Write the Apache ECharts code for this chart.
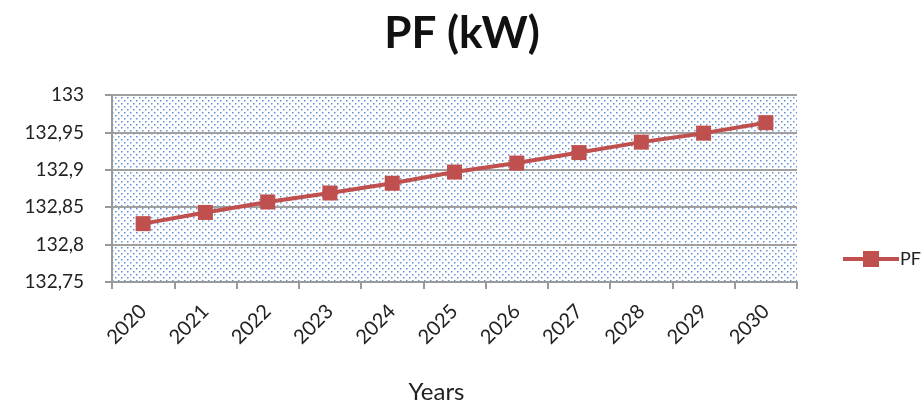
<!DOCTYPE html>
<html>
<head>
<meta charset="utf-8">
<script src="https://cdn.jsdelivr.net/npm/echarts@6/dist/echarts.min.js"></script>
<style>
  html, body { margin: 0; padding: 0; background: #fff; }
  #chart { width: 924px; height: 405px; }
</style>
</head>
<body>
<div id="chart"></div>
<script>
// Yearly PF values (kW)
const years = ['2020', '2021', '2022', '2023', '2024', '2025', '2026', '2027', '2028', '2029', '2030'];
const pfValues = [132.828, 132.843, 132.857, 132.869, 132.882, 132.897, 132.909, 132.923, 132.937, 132.949, 132.963];
const yTicks = [132.75, 132.8, 132.85, 132.9, 132.95, 133];

// Dotted fill for the plot area
function dotTile() {
  const c = document.createElement('canvas');
  c.width = 6; c.height = 6;
  const g = c.getContext('2d');
  g.fillStyle = '#fff';
  g.fillRect(0, 0, 6, 6);
  g.fillStyle = 'rgba(70,125,205,0.85)';
  g.fillRect(1, 1, 1.5, 1.5);
  g.fillRect(4, 4, 1.5, 1.5);
  return c;
}

const font = 'Lato, "Open Sans", sans-serif';
const chart = echarts.init(document.getElementById('chart'), null, { renderer: 'canvas' });
chart.setOption({
  animation: false,
  title: {
    text: 'PF (kW)',
    left: 'center',
    top: 7,
    textStyle: { fontFamily: font, fontSize: 44, fontWeight: 'bold', color: '#111' }
  },
  legend: {
    left: 836,
    top: 245,
    itemWidth: 56,
    itemHeight: 20,
    itemGap: 4,
    lineStyle: { width: 4 },
    textStyle: { fontFamily: font, fontSize: 18, color: '#222', padding: [0, 0, 0, -4] },
    data: ['PF']
  },
  grid: {
    left: 112, right: 127, top: 95, bottom: 123,
    show: true,
    borderWidth: 0,
    backgroundColor: { image: dotTile(), repeat: 'repeat' }
  },
  xAxis: {
    type: 'category',
    data: years,
    boundaryGap: true,
    name: 'Years',
    nameLocation: 'middle',
    nameGap: 98,
    nameTextStyle: { fontFamily: font, fontSize: 24, color: '#222', padding: [0, 36, 0, 0] },
    axisLine: { lineStyle: { color: '#9a9a9a', width: 2 } },
    axisTick: { show: true, alignWithLabel: false, length: 7, lineStyle: { color: '#9a9a9a', width: 2 } },
    axisLabel: { rotate: 45, margin: 26, fontFamily: font, fontSize: 20, color: '#222' }
  },
  yAxis: {
    type: 'value',
    min: yTicks[0],
    max: yTicks[yTicks.length - 1],
    interval: 0.05,
    axisLine: { show: true, lineStyle: { color: '#9a9a9a', width: 2 } },
    axisTick: { show: true, length: 7, lineStyle: { color: '#9a9a9a', width: 2 } },
    splitLine: { lineStyle: { color: '#a0a0a0', width: 2 } },
    axisLabel: {
      margin: 28,
      fontFamily: font, fontSize: 19, color: '#222',
      formatter: v => String(Math.round(v * 100) / 100).replace('.', ',')
    }
  },
  series: [{
    name: 'PF',
    type: 'line',
    data: pfValues,
    symbol: 'rect',
    symbolSize: 15,
    lineStyle: { color: '#c0504d', width: 4 },
    itemStyle: { color: '#c0504d' }
  }]
});
</script>
</body>
</html>
